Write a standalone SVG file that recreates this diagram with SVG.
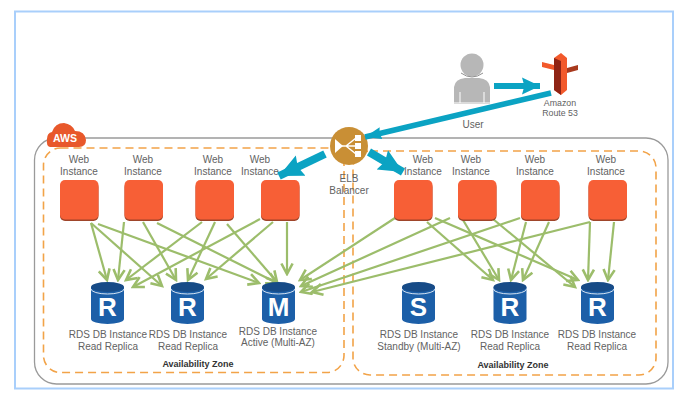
<svg xmlns="http://www.w3.org/2000/svg" xmlns:xlink="http://www.w3.org/1999/xlink" width="686" height="400" viewBox="0 0 686 400">
<style>
text{font-family:"Liberation Sans",Arial,sans-serif;fill:#626262;font-size:10px;text-anchor:middle}
.az{font-size:9px;font-weight:700;fill:#333}
.small{font-size:8.8px}
.frame{fill:#fff;stroke:#a9cffb;stroke-width:2}
.aws{fill:none;stroke:#9a9a9a;stroke-width:1.3}
.zone{fill:none;stroke:#f2a348;stroke-width:1.6;stroke-dasharray:8 5}
.g line{stroke:#9cbd6b;stroke-width:2.200;marker-end:url(#gh)}
.b line{stroke:#0ba3c3;marker-end:url(#bh)}
.b line.thin{marker-end:url(#bs)}
.letter{font-size:26px;font-weight:700;fill:#fff}
</style>
<defs>
<marker id="gh" markerUnits="userSpaceOnUse" markerWidth="14" markerHeight="14" refX="10" refY="6" orient="auto" viewBox="0 0 12 12"><path d="M1 1.2L10 6L1 10.8" fill="none" stroke="#9cbd6b" stroke-width="2.200"/></marker>
<marker id="bh" markerUnits="strokeWidth" markerWidth="4" markerHeight="4" refX="3" refY="2" orient="auto" viewBox="0 0 4 4"><path d="M0 .6L3 2L0 3.400L.4 2Z" fill="#0ba3c3"/></marker>
<marker id="bs" markerUnits="strokeWidth" markerWidth="4" markerHeight="4" refX="3" refY="2" orient="auto" viewBox="0 0 4 4"><path d="M0 .9L3 2L0 3.100L.3 2Z" fill="#0ba3c3"/></marker>
<g id="inst"><rect y="2" width="38.500" height="39" rx="5" fill="#9f452a"/><rect width="38.500" height="39.500" rx="5" fill="#f75f36"/></g>
<g id="db"><path d="M0 5V37A16.500 5 0 0 0 33 37V5Z" fill="#1c5fa8"/><ellipse cx="16.500" cy="5" rx="16.500" ry="5" fill="#174b87"/><path d="M0 7A16.500 5 0 0 0 33 7" fill="none" stroke="#d5e3f2" stroke-width="1"/></g>
</defs>
<rect class="frame" x="15" y="11.500" width="658" height="377"/>
<g id="containers">
<rect class="aws" x="34.500" y="138" width="633.500" height="246" rx="22"/>
<rect class="zone" x="43.500" y="148" width="300.500" height="224.500" rx="17"/>
<rect class="zone" x="353" y="151" width="303" height="224" rx="17"/>
<text class="az" x="198" y="367">Availability Zone</text>
<text class="az" x="513" y="368">Availability Zone</text>
</g>
<g id="n-aws"><path d="M50 147Q46 146 47 139Q47 133 52 132Q55 123 64 123Q72 124 75 131Q85 131 86 140Q86 147 79 147Z" fill="#e8582b"/><text x="65" y="142" style="font-size:11px;font-weight:700;fill:#fff" textLength="24" lengthAdjust="spacingAndGlyphs">AWS</text></g>
<g id="connectors">
<g class="g">
<line x1="91" y1="223" x2="107" y2="280"/><line x1="91" y1="223" x2="162" y2="286"/><line x1="98" y1="224" x2="259" y2="283"/>
<line x1="124" y1="222" x2="118" y2="280"/><line x1="143" y1="222" x2="176" y2="280"/><line x1="157" y1="223" x2="277" y2="283"/>
<line x1="202" y1="222" x2="126" y2="280"/><line x1="215" y1="222" x2="188" y2="280"/><line x1="227" y1="224" x2="277" y2="282"/>
<line x1="260" y1="219" x2="133" y2="287"/><line x1="273" y1="222" x2="206" y2="279"/><line x1="287" y1="222" x2="287" y2="274"/>
<line x1="395" y1="218" x2="300" y2="280"/><line x1="450" y1="218" x2="301" y2="286"/><line x1="520" y1="218" x2="301" y2="292"/><line x1="590" y1="222" x2="312" y2="292"/>
<line x1="427" y1="222" x2="493" y2="280"/><line x1="435" y1="218" x2="578" y2="280"/>
<line x1="463" y1="220" x2="499" y2="280"/><line x1="493" y1="219" x2="575" y2="287"/>
<line x1="526" y1="222" x2="511" y2="280"/><line x1="549" y1="222" x2="523" y2="280"/>
<line x1="590" y1="222" x2="588" y2="280"/><line x1="614" y1="222" x2="608" y2="280"/>
</g>
</g>
<g id="w1"><use xlink:href="#inst" x="60" y="180"/><text x="79" y="163">Web</text><text x="79" y="175">Instance</text></g>
<g id="w2"><use xlink:href="#inst" x="124.500" y="180"/><text x="143" y="163">Web</text><text x="143" y="175">Instance</text></g>
<g id="w3"><use xlink:href="#inst" x="195.500" y="180"/><text x="213" y="163">Web</text><text x="213" y="175">Instance</text></g>
<g id="w4"><use xlink:href="#inst" x="261" y="180"/><text x="260" y="163">Web</text><text x="260" y="175">Instance</text></g>
<g id="w5"><use xlink:href="#inst" x="394" y="180"/><text x="423" y="163">Web</text><text x="423" y="175">Instance</text></g>
<g id="w6"><use xlink:href="#inst" x="458" y="180"/><text x="471" y="163">Web</text><text x="471" y="175">Instance</text></g>
<g id="w7"><use xlink:href="#inst" x="521" y="180"/><text x="535" y="163">Web</text><text x="535" y="175">Instance</text></g>
<g id="w8"><use xlink:href="#inst" x="588.500" y="180"/><text x="606" y="163">Web</text><text x="606" y="175">Instance</text></g>
<g id="db1"><use xlink:href="#db" x="91" y="282"/><text class="letter" x="107.500" y="316">R</text><text x="108" y="337.500">RDS DB Instance</text><text x="108" y="349.500">Read Replica</text></g>
<g id="db2"><use xlink:href="#db" x="171" y="282"/><text class="letter" x="187.500" y="316">R</text><text x="188" y="337.500">RDS DB Instance</text><text x="188" y="349.500">Read Replica</text></g>
<g id="db3"><use xlink:href="#db" x="262" y="282"/><text class="letter" x="278.500" y="316">M</text><text x="278" y="334.500">RDS DB Instance</text><text x="278" y="346">Active (Multi-AZ)</text></g>
<g id="db4"><use xlink:href="#db" x="402" y="282"/><text class="letter" x="418.500" y="316">S</text><text x="419" y="337.500">RDS DB Instance</text><text x="419" y="349.500">Standby (Multi-AZ)</text></g>
<g id="db5"><use xlink:href="#db" x="493.500" y="282"/><text class="letter" x="510" y="316">R</text><text x="510" y="337.500">RDS DB Instance</text><text x="510" y="349.500">Read Replica</text></g>
<g id="db6"><use xlink:href="#db" x="581" y="282"/><text class="letter" x="597.500" y="316">R</text><text x="597" y="337.500">RDS DB Instance</text><text x="597" y="349.500">Read Replica</text></g>
<g id="user"><circle cx="472" cy="65" r="11.500" fill="#b7b7b7"/><path d="M461 73Q472 81 483 73" fill="none" stroke="#8f8f8f" stroke-width="1"/><path d="M454 104V87Q455 79 465 78H479Q489 79 490 87V104Z" fill="#b7b7b7"/><path d="M454 103H490M460 92V103M484 92V103" stroke="#fff" stroke-width="1" fill="none"/><text x="473" y="128">User</text></g>
<g id="route53"><path d="M554 58L561 53L567 58V90L561 95L554 90Z" fill="#f2592b"/><path d="M554 58L561 61V95L554 90Z" fill="#8f2415"/><path d="M542 62L554 65V70L542 67Z" fill="#f2592b"/><path d="M567 68L578 65V70L567 73Z" fill="#a83a1e"/><text class="small" x="560" y="106">Amazon</text><text class="small" x="560" y="116">Route 53</text></g>
<g id="elb"><circle cx="349" cy="146" r="19" fill="#c98f35"/><g fill="none" stroke="#fff" stroke-width="1.500"><path d="M341 146H356M346 146L356 138M346 146L356 154"/></g><g fill="#fff"><path d="M335 139L343 146L335 153Z"/><rect x="355" y="135" width="6" height="6"/><rect x="355" y="143" width="6" height="6"/><rect x="355" y="151" width="6" height="6"/></g><text x="349" y="182">ELB</text><text x="349" y="194">Balancer</text></g>
<g class="b" id="blue-connectors">
<line x1="494" y1="86" x2="540" y2="86" stroke-width="6"/>
<line class="thin" x1="551" y1="93" x2="365" y2="137" stroke-width="5.500"/>
<line x1="325" y1="154" x2="279" y2="176" stroke-width="8"/>
<line x1="369" y1="152" x2="403" y2="172" stroke-width="8"/>
</g>
</svg>
